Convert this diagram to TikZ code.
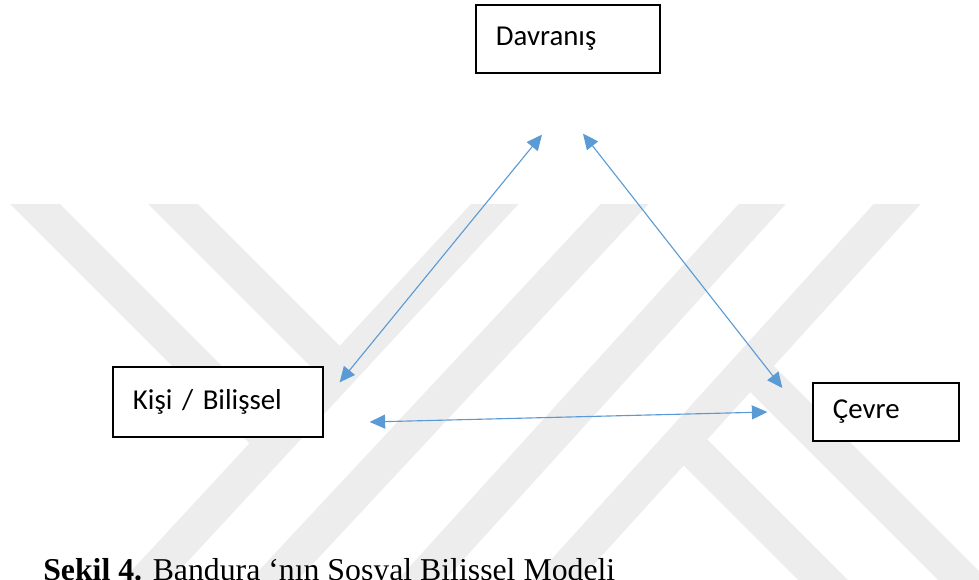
\documentclass[tikz,border=0pt]{standalone}
\usepackage{fontspec}
\setmainfont{Carlito}
\newfontfamily\capfont{Liberation Serif}
\usetikzlibrary{arrows.meta}
\definecolor{linkblue}{RGB}{91,155,213}
\definecolor{markgray}{RGB}{237,237,237}

\begin{document}
\begin{tikzpicture}[x=0.025cm, y=-0.025cm,
    box/.style={draw=black, line width=0.9pt, fill=white, align=left,
      inner xsep=0.5cm, inner ysep=0pt, font=\fontsize{20.5}{24}\selectfont},
    link/.style={linkblue, line width=0.8pt,
      {Triangle[length=11pt,width=10pt]}-{Triangle[length=11pt,width=10pt]}},
    band/.style={markgray, line width=0.875cm}]
  \useasboundingbox (0,0) rectangle (979,579);

  % Watermark bands
  \begin{scope}
    \clip (0,204) rectangle (979,579);
    \draw[band] (11,180) -- (273,442);
    \draw[band] (149,180) -- (339,370);
    \draw[band] (119,610) -- (517,180);
    \draw[band] (246,610) -- (647,180);
    \draw[band] (394,610) -- (784,180);
    \draw[band] (529,610) -- (919,180);
    \draw[band] (750,367) -- (1010,627);
    \draw[band] (683,440) -- (880,637);
  \end{scope}

  % Boxes
  \node[box, text width=3.6cm, minimum height=1.7cm] (davranis) at (568,39) {Davranış};
  \node[box, text width=4.25cm, minimum height=1.75cm] (kisi) at (218,402) {Kişi / Bilişsel};
  \node[box, text width=2.65cm, minimum height=1.45cm] (cevre) at (886,412) {Çevre};

  % Arrow ends
  \coordinate (kd1) at ([shift={(16,16)}]kisi.north east);
  \coordinate (kd2) at ([shift={(-26,61)}]davranis.south);
  \coordinate (dc1) at ([shift={(15,60)}]davranis.south);
  \coordinate (dc2) at ([shift={(-30,-24)}]cevre.west);
  \coordinate (kc1) at ([shift={(46,20)}]kisi.east);
  \coordinate (kc2) at ([shift={(-45,0)}]cevre.west);

  % Arrows
  \draw[link] (kd1) -- (kd2);
  \draw[link] (dc1) -- (dc2);
  \draw[link] (kc1) -- (kc2);

  % Caption
  \node[anchor=base west, inner sep=0pt, font=\capfont\fontsize{22.6}{26}\selectfont] (caption)
    at (43,580) {\textbf{Şekil 4.} Bandura ‘nın Sosyal Bilişsel Modeli};
\end{tikzpicture}
\end{document}
